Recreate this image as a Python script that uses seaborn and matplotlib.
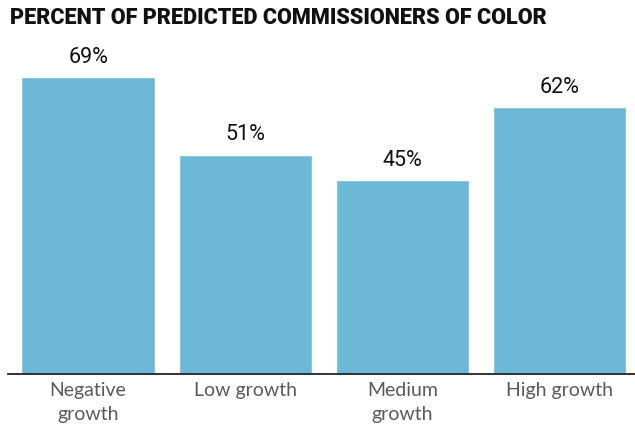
import matplotlib
matplotlib.use("Agg")
import matplotlib.pyplot as plt
import seaborn as sns
import pandas as pd

# Chart data
categories = ["Negative\ngrowth", "Low growth", "Medium\ngrowth", "High growth"]
percent_of_color = [69, 51, 45, 62]
title_text = "PERCENT OF PREDICTED COMMISSIONERS OF COLOR"

bar_color = "#6cb8d6"

sns.set_theme(style="white")
plt.rcParams["font.family"] = ["Lato", "DejaVu Sans"]

df = pd.DataFrame({"category": categories, "percent": percent_of_color})

fig = plt.figure(figsize=(6.35, 4.30), dpi=100)
ax = fig.add_axes([8 / 635, 56 / 430, 627 / 635, 344 / 430])

sns.barplot(data=df, x="category", y="percent", color=bar_color,
            saturation=1, width=0.85, ax=ax)

ax.set_xlim(-0.51, 3.48)
ax.set_ylim(0, 80)

# value labels above each bar
for i, v in enumerate(percent_of_color):
    ax.annotate(f"{v}%", xy=(i, v), xytext=(0, 7), textcoords="offset points",
                ha="center", va="bottom", fontsize=15.5,
                family=["Roboto", "DejaVu Sans"], color="#111111")

for side in ["top", "right", "left"]:
    ax.spines[side].set_visible(False)
ax.spines["bottom"].set_color("#222222")
ax.spines["bottom"].set_linewidth(1.3)

ax.set_yticks([])
ax.set_xlabel("")
ax.set_ylabel("")
ax.tick_params(axis="x", length=0, pad=6, labelsize=14, labelcolor="#5a5a5a")
for lbl in ax.get_xticklabels():
    lbl.set_linespacing(1.45)

fig.text(10 / 635, 1 - 18 / 430, title_text, ha="left", va="center",
         fontsize=15.6, fontweight="heavy", family=["Roboto", "DejaVu Sans"],
         color="#111111")

fig.savefig("out.png", dpi=100, facecolor="white")
